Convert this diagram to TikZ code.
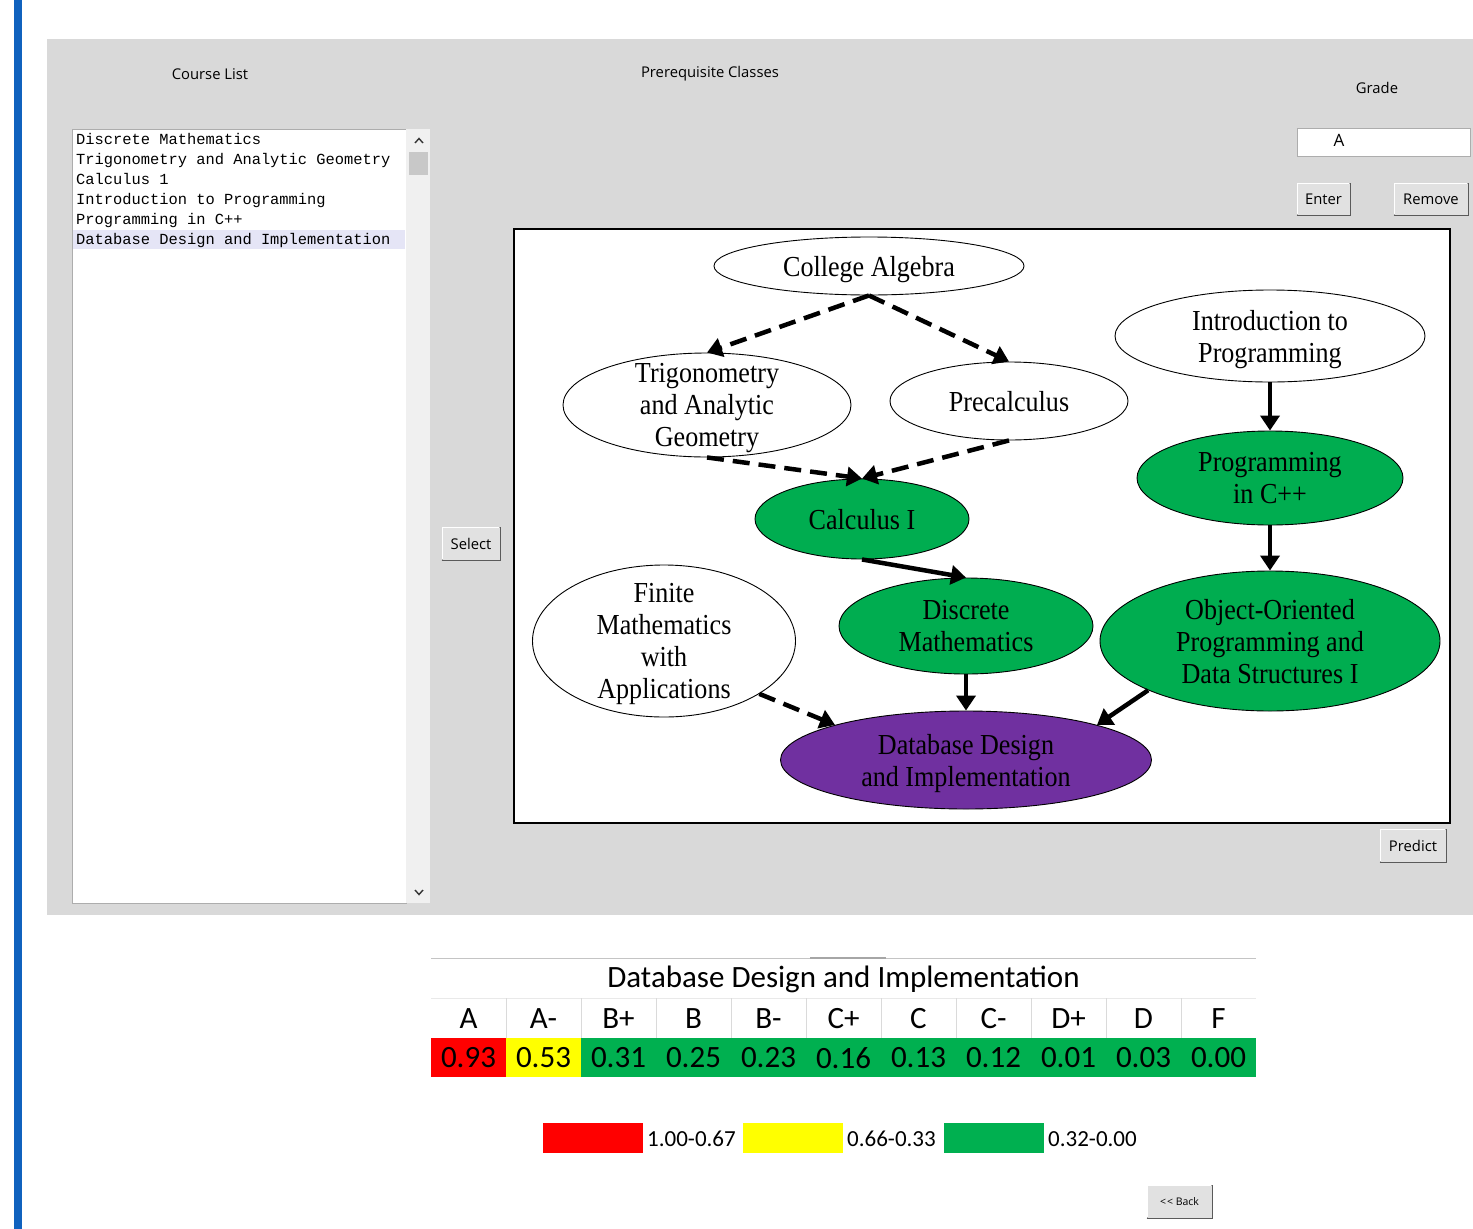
\documentclass[tikz,border=0pt]{standalone}
\usepackage{fontspec}
\setmainfont{Liberation Serif}
\newfontfamily\uifont{Open Sans}
\newfontfamily\lbfont{Liberation Mono}
\newfontfamily\calfont{Carlito}
\newfontfamily\gvfont[FakeStretch=0.9]{Liberation Serif}
\usetikzlibrary{shapes.geometric,arrows.meta}
\definecolor{panelgray}{RGB}{217,217,217}
\definecolor{barblue}{RGB}{16,98,190}
\definecolor{gvgreen}{RGB}{0,173,80}
\definecolor{gvpurple}{RGB}{112,48,160}
\definecolor{xlred}{RGB}{255,0,0}
\definecolor{xlyellow}{RGB}{255,255,0}
\definecolor{xlgreen}{RGB}{0,176,80}
\definecolor{btnface}{RGB}{225,225,225}
\definecolor{btnedge}{RGB}{173,173,173}
\definecolor{btnshadow}{RGB}{90,90,90}
\definecolor{selbg}{RGB}{229,229,246}
\definecolor{sbgray}{RGB}{240,240,240}
\definecolor{thumbgray}{RGB}{200,200,200}
\definecolor{gridgray}{RGB}{218,218,218}
\begin{document}
\begin{tikzpicture}[x=1pt,y=-1pt,
  uitext/.style={font=\uifont\fontsize{14.8}{17}\selectfont, inner sep=0pt},
  btn/.style={draw=btnedge, fill=btnface, line width=0.8pt, inner sep=0pt,
    font=\uifont\fontsize{14.8}{17}\selectfont},
  lbtext/.style={font=\lbfont\fontsize{15.4}{20}\selectfont, inner sep=0pt, anchor=base west},
  gnode/.style={ellipse, draw=black, line width=0.9pt, inner sep=-20pt, align=center,
    text depth=0pt, font=\gvfont\fontsize{29}{32}\selectfont},
  sedge/.style={line width=4.5pt, -{Triangle[length=15pt,width=19pt]}},
  dedge/.style={sedge, dash pattern=on 17pt off 9pt},
  hdr/.style={font=\calfont\fontsize{31}{34}\selectfont, inner sep=0pt},
  legtext/.style={font=\calfont\fontsize{23}{26}\selectfont, inner sep=0pt, anchor=west}
]
\useasboundingbox (0,0) rectangle (1473,1229);
\fill[white] (0,0) rectangle (1473,1229);
\fill[barblue] (14,0) rectangle (22,1229);
\fill[panelgray] (47,39) rectangle (1473,915);

% labels
\node[uitext] (lcourse) at (210,74) {Course List};
\node[uitext] (lprereq) at (710,74) {Prerequisite Classes};
\node[uitext] (lgrade) at (1377,88) {Grade};

% list box
\draw[fill=white, draw=btnedge, line width=0.8pt] (72,129) rectangle (406,903);
\fill[sbgray] (406,129) rectangle (430,903);
\fill[thumbgray] (409,152) rectangle (428,175);
\draw[line width=1.4pt, black!80] (415,143) -- (419,138.5) -- (423,143);
\draw[line width=1.4pt, black!80] (415,890) -- (419,894.5) -- (423,890);
\fill[selbg] (73,230) rectangle (405,249);
\node[lbtext] (c1) at (76,144) {Discrete Mathematics};
\node[lbtext] (c2) at (76,164) {Trigonometry and Analytic Geometry};
\node[lbtext] (c3) at (76,184) {Calculus 1};
\node[lbtext] (c4) at (76,204) {Introduction to Programming};
\node[lbtext] (c5) at (76,224) {Programming in C++};
\node[lbtext] (c6) at (76,244) {Database Design and Implementation};

% grade entry
\draw[fill=white, draw=btnedge, line width=0.8pt] (1297,128) rectangle (1470,156);
\node[font=\uifont\fontsize{17}{20}\selectfont, inner sep=0pt] (gA) at (1339,140) {A};

% buttons
\node[btn, minimum width=53pt, minimum height=32pt] (benter) at (1323.5,199) {Enter};
\node[btn, minimum width=74pt, minimum height=32pt] (bremove) at (1431,199) {Remove};
\node[btn, minimum width=58pt, minimum height=33pt] (bselect) at (471,543.5) {Select};
\node[btn, minimum width=66pt, minimum height=33pt] (bpredict) at (1413,845.5) {Predict};
\node[btn, minimum width=65pt, minimum height=33pt, font=\uifont\fontsize{10.5}{12}\selectfont] (bback) at (1179.5,1201.5) {<\kern1pt< Back};
\foreach \b in {benter,bremove,bselect,bpredict,bback}{
  \draw[btnshadow, line width=1.6pt] (\b.south west) -- (\b.south east) -- (\b.north east);
  \draw[white, line width=1pt] ([xshift=1pt,yshift=1pt]\b.south west) -- ([xshift=1pt,yshift=-1pt]\b.north west) -- ([xshift=-1pt,yshift=-1pt]\b.north east);
}

% graph box
\draw[fill=white, line width=1.2pt] (514,229) rectangle (1450,823);

\node[gnode, fill=white, minimum width=310pt, minimum height=58pt] (ca) at (869,266) {College Algebra};
\node[gnode, fill=white, minimum width=288pt, minimum height=104pt] (trig) at (707,405) {Trigonometry\\and Analytic\\Geometry};
\node[gnode, fill=white, minimum width=238pt, minimum height=78pt] (pre) at (1009,401) {Precalculus};
\node[gnode, fill=white, minimum width=310pt, minimum height=92pt] (intro) at (1270,336) {Introduction to\\Programming};
\node[gnode, fill=gvgreen, minimum width=214pt, minimum height=80pt] (calc) at (862,519) {Calculus I};
\node[gnode, fill=gvgreen, minimum width=266pt, minimum height=94pt] (cpp) at (1270,478) {Programming\\in C++};
\node[gnode, fill=white, minimum width=263pt, minimum height=152pt] (fin) at (664,641) {Finite\\Mathematics\\with\\Applications};
\node[gnode, fill=gvgreen, minimum width=254pt, minimum height=96pt] (disc) at (966,626) {Discrete\\Mathematics};
\node[gnode, fill=gvgreen, minimum width=340pt, minimum height=140pt] (oop) at (1270,641) {Object-Oriented\\Programming and\\Data Structures I};
\node[gnode, fill=gvpurple, minimum width=371pt, minimum height=98pt] (db) at (966,760) {Database Design\\and Implementation};

\draw[dedge] (ca.south) -- (trig.north);
\draw[dedge] (ca.south) -- (pre.north);
\draw[dedge] (trig.south) -- (calc.north);
\draw[dedge] (pre.south) -- (calc.north);
\draw[sedge] (intro.south) -- (cpp.north);
\draw[sedge] (cpp.south) -- (oop.north);
\draw[sedge] (calc.south) -- (disc.north);
\draw[dedge] (fin.-29) -- (db.165);
\draw[sedge] (disc.south) -- (db.north);
\draw[sedge] (oop.-158) -- (db.15);

% table
\draw[gridgray!90!black, line width=0.8pt] (431,958) -- (1256,958);
\draw[gray!70, line width=1.5pt] (810,958) -- (886,958);
\draw[gridgray!60, line width=0.6pt] (431,998) -- (1256,998);
\node[hdr] (ttitle) at (843.5,979) {Database Design and Implementation};
\foreach \i in {1,...,10}{
  \draw[gridgray, line width=0.7pt] ({431+75*\i},998) -- ({431+75*\i},1038);
}
\fill[xlred] (431,1038) rectangle (506,1077);
\fill[xlyellow] (506,1038) rectangle (581,1077);
\fill[xlgreen] (581,1038) rectangle (1256,1077);
\foreach \g [count=\i from 0] in {A,A-,B+,B,B-,C+,C,C-,D+,D,F}
  \node[hdr] (h\i) at ({468.5+75*\i},1019) {\g};
\foreach \v [count=\i from 0] in {0.93,0.53,0.31,0.25,0.23,0.16,0.13,0.12,0.01,0.03,0.00}
  \node[hdr] (v\i) at ({468.5+75*\i},1058) {\v};

% legend
\fill[xlred] (543,1123) rectangle (643,1153);
\fill[xlyellow] (743,1123) rectangle (843,1153);
\fill[xlgreen] (944,1123) rectangle (1044,1153);
\node[legtext] (l1) at (647,1139) {1.00-0.67};
\node[legtext] (l2) at (847,1139) {0.66-0.33};
\node[legtext] (l3) at (1048,1139) {0.32-0.00};
\end{tikzpicture}
\end{document}
